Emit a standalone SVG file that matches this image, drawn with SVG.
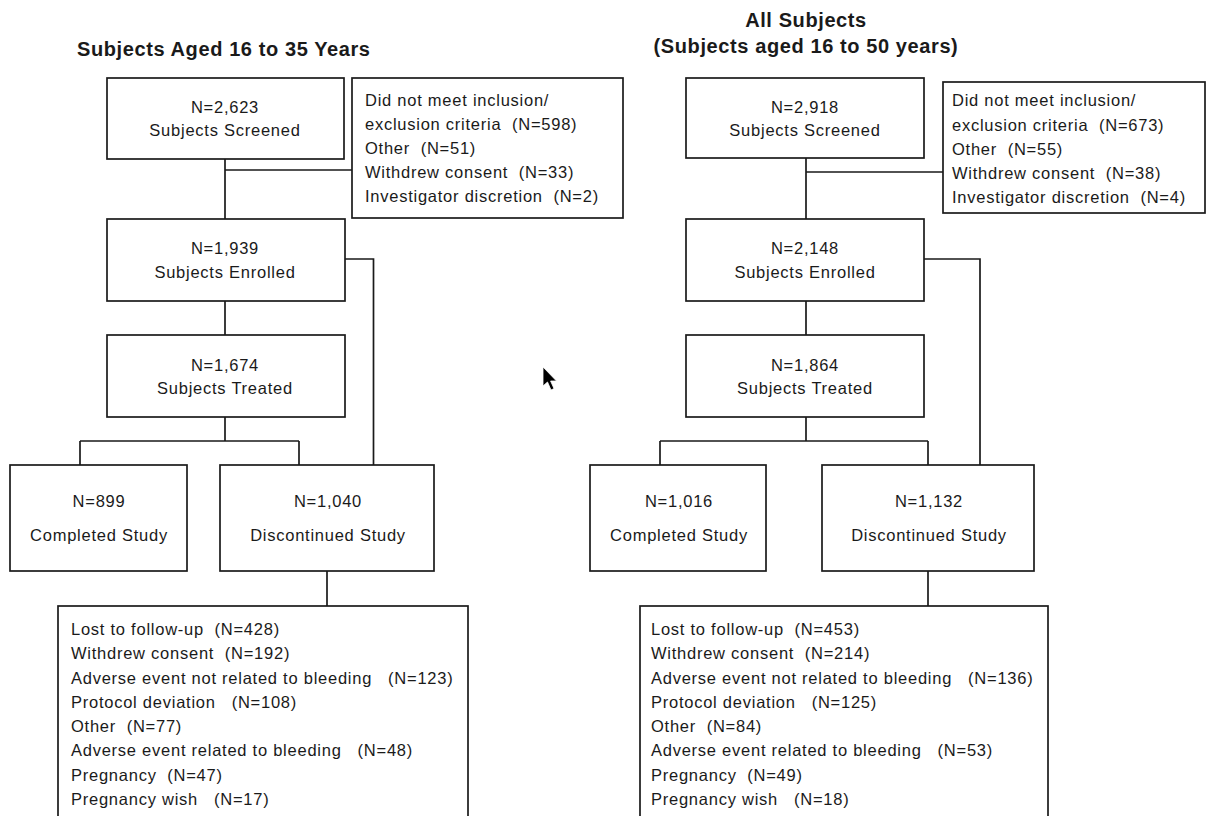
<svg xmlns="http://www.w3.org/2000/svg" width="1207" height="816" viewBox="0 0 1207 816">
<style>
.box{fill:#fff;stroke:#1a1a1a;stroke-width:1.7}
.ln{fill:none;stroke:#1a1a1a;stroke-width:1.7}
text{font-family:"Liberation Sans",Arial,sans-serif;font-size:16.5px;letter-spacing:0.75px;fill:#1a1a1a;white-space:pre}
.c{text-anchor:middle}
.t{font-weight:bold;font-size:20px;letter-spacing:0.6px}
</style>
<rect width="1207" height="816" fill="#fff"/>
<g id="titles">
<text class="t" x="77" y="56">Subjects Aged 16 to 35 Years</text>
<text class="t c" x="806" y="27">All Subjects</text>
<text class="t c" x="806" y="53">(Subjects aged 16 to 50 years)</text>
</g>
<g id="connectors">
<path class="ln" d="M225 159V219M225 170H352M225 301V335M225 417V441M80 441H299M80 441V465M299 441V465M345 259H373.5V465M327 571V606"/>
<path class="ln" d="M806 158V219M806 172H943M806 301V335M806 417V441M660 441H928M660 441V465M928 441V465M924 259H980V465M928 571V606"/>
</g>
<g id="L-screened"><rect class="box" x="107" y="78" width="237" height="81"/>
<text class="c" x="225" y="113">N=2,623</text><text class="c" x="225" y="136">Subjects Screened</text></g>
<g id="L-excluded"><rect class="box" x="352" y="78" width="271" height="140"/>
<text x="365" y="106">Did not meet inclusion/</text>
<text x="365" y="130">exclusion criteria  (N=598)</text>
<text x="365" y="154">Other  (N=51)</text>
<text x="365" y="178">Withdrew consent  (N=33)</text>
<text x="365" y="202">Investigator discretion  (N=2)</text></g>
<g id="L-enrolled"><rect class="box" x="107" y="219" width="238" height="82"/>
<text class="c" x="225" y="254">N=1,939</text><text class="c" x="225" y="278">Subjects Enrolled</text></g>
<g id="L-treated"><rect class="box" x="107" y="335" width="238" height="82"/>
<text class="c" x="225" y="371">N=1,674</text><text class="c" x="225" y="394">Subjects Treated</text></g>
<g id="L-completed"><rect class="box" x="10" y="465" width="177" height="106"/>
<text class="c" x="99" y="507">N=899</text><text class="c" x="99" y="541">Completed Study</text></g>
<g id="L-discontinued"><rect class="box" x="220" y="465" width="214" height="106"/>
<text class="c" x="328" y="507">N=1,040</text><text class="c" x="328" y="541">Discontinued Study</text></g>
<g id="L-reasons"><rect class="box" x="58" y="606" width="410" height="230"/>
<text x="71" y="635">Lost to follow-up  (N=428)</text>
<text x="71" y="659">Withdrew consent  (N=192)</text>
<text x="71" y="684">Adverse event not related to bleeding   (N=123)</text>
<text x="71" y="708">Protocol deviation   (N=108)</text>
<text x="71" y="732">Other  (N=77)</text>
<text x="71" y="756">Adverse event related to bleeding   (N=48)</text>
<text x="71" y="781">Pregnancy  (N=47)</text>
<text x="71" y="805">Pregnancy wish   (N=17)</text></g>
<g id="R-screened"><rect class="box" x="686" y="78" width="238" height="80"/>
<text class="c" x="805" y="113">N=2,918</text><text class="c" x="805" y="136">Subjects Screened</text></g>
<g id="R-excluded"><rect class="box" x="943" y="82" width="262" height="131"/>
<text x="952" y="106">Did not meet inclusion/</text>
<text x="952" y="131">exclusion criteria  (N=673)</text>
<text x="952" y="155">Other  (N=55)</text>
<text x="952" y="179">Withdrew consent  (N=38)</text>
<text x="952" y="203">Investigator discretion  (N=4)</text></g>
<g id="R-enrolled"><rect class="box" x="686" y="219" width="238" height="82"/>
<text class="c" x="805" y="254">N=2,148</text><text class="c" x="805" y="278">Subjects Enrolled</text></g>
<g id="R-treated"><rect class="box" x="686" y="335" width="238" height="82"/>
<text class="c" x="805" y="371">N=1,864</text><text class="c" x="805" y="394">Subjects Treated</text></g>
<g id="R-completed"><rect class="box" x="590" y="465" width="176" height="106"/>
<text class="c" x="679" y="507">N=1,016</text><text class="c" x="679" y="541">Completed Study</text></g>
<g id="R-discontinued"><rect class="box" x="822" y="465" width="212" height="106"/>
<text class="c" x="929" y="507">N=1,132</text><text class="c" x="929" y="541">Discontinued Study</text></g>
<g id="R-reasons"><rect class="box" x="640" y="606" width="408" height="230"/>
<text x="651" y="635">Lost to follow-up  (N=453)</text>
<text x="651" y="659">Withdrew consent  (N=214)</text>
<text x="651" y="684">Adverse event not related to bleeding   (N=136)</text>
<text x="651" y="708">Protocol deviation   (N=125)</text>
<text x="651" y="732">Other  (N=84)</text>
<text x="651" y="756">Adverse event related to bleeding   (N=53)</text>
<text x="651" y="781">Pregnancy  (N=49)</text>
<text x="651" y="805">Pregnancy wish   (N=18)</text></g>
<g id="cursor"><path d="M543 367V386L547.5 382L551 390L554 388.6L550.6 381H556.5Z" fill="#000" stroke="#fff" stroke-width="0.8"/></g>
</svg>
